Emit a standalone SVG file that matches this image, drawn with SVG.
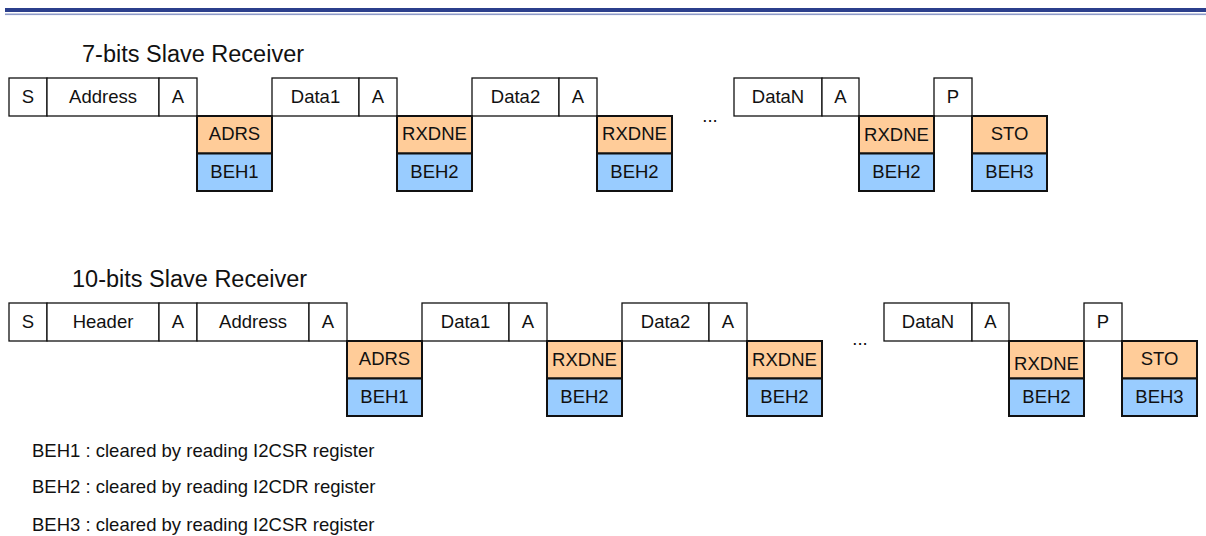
<svg xmlns="http://www.w3.org/2000/svg" width="1206" height="536" viewBox="0 0 1206 536">
<style>
text{font-family:"Liberation Sans",Arial,sans-serif;fill:#111;}
.t{font-size:18.5px;text-anchor:middle;}
.title{font-size:23.5px;}
.lg{font-size:18.5px;}
.b{fill:#fff;stroke:#111;stroke-width:1.3;}
.o{fill:#FFCC99;stroke:#111;stroke-width:2;}
.u{fill:#99CCFF;stroke:#111;stroke-width:2;}
</style>
<rect x="5" y="8" width="1201" height="4" fill="#2B3F8C"/>
<rect x="5" y="13.5" width="1201" height="1.6" fill="#8D9AC8"/>

<text class="title" x="82" y="62">7-bits Slave Receiver</text>
<g id="r7-S"><rect class="b" x="9" y="78" width="38" height="38"/><text class="t" x="28" y="103">S</text></g>
<g id="r7-Address"><rect class="b" x="47" y="78" width="112" height="38"/><text class="t" x="103" y="103">Address</text></g>
<g id="r7-A1"><rect class="b" x="159" y="78" width="38" height="38"/><text class="t" x="178" y="103">A</text></g>
<g id="r7-Data1"><rect class="b" x="272" y="78" width="87" height="38"/><text class="t" x="315.5" y="103">Data1</text></g>
<g id="r7-A2"><rect class="b" x="359" y="78" width="38" height="38"/><text class="t" x="378" y="103">A</text></g>
<g id="r7-Data2"><rect class="b" x="472" y="78" width="87" height="38"/><text class="t" x="515.5" y="103">Data2</text></g>
<g id="r7-A3"><rect class="b" x="559" y="78" width="38" height="38"/><text class="t" x="578" y="103">A</text></g>
<g id="r7-dots"><text class="t" x="710" y="122">...</text></g>
<g id="r7-DataN"><rect class="b" x="734" y="78" width="88" height="38"/><text class="t" x="778" y="103">DataN</text></g>
<g id="r7-A4"><rect class="b" x="822" y="78" width="37" height="38"/><text class="t" x="840.5" y="103">A</text></g>
<g id="r7-P"><rect class="b" x="934" y="78" width="38" height="38"/><text class="t" x="953" y="103">P</text></g>

<g id="r7-ADRS"><rect class="o" x="197" y="116" width="75" height="37.5"/><text class="t" x="234.5" y="140">ADRS</text></g>
<g id="r7-BEH1"><rect class="u" x="197" y="153.5" width="75" height="37.5"/><text class="t" x="234.5" y="177.5">BEH1</text></g>
<g id="r7-RXDNE1"><rect class="o" x="397" y="116" width="75" height="37.5"/><text class="t" x="434.5" y="140">RXDNE</text></g>
<g id="r7-BEH2a"><rect class="u" x="397" y="153.5" width="75" height="37.5"/><text class="t" x="434.5" y="177.5">BEH2</text></g>
<g id="r7-RXDNE2"><rect class="o" x="597" y="116" width="75" height="37.5"/><text class="t" x="634.5" y="140">RXDNE</text></g>
<g id="r7-BEH2b"><rect class="u" x="597" y="153.5" width="75" height="37.5"/><text class="t" x="634.5" y="177.5">BEH2</text></g>
<g id="r7-RXDNE3"><rect class="o" x="859" y="116" width="75" height="37.5"/><text class="t" x="896.5" y="141">RXDNE</text></g>
<g id="r7-BEH2c"><rect class="u" x="859" y="153.5" width="75" height="37.5"/><text class="t" x="896.5" y="177.5">BEH2</text></g>
<g id="r7-STO"><rect class="o" x="972" y="116" width="75" height="37.5"/><text class="t" x="1009.5" y="140">STO</text></g>
<g id="r7-BEH3"><rect class="u" x="972" y="153.5" width="75" height="37.5"/><text class="t" x="1009.5" y="177.5">BEH3</text></g>

<text class="title" x="72" y="287">10-bits Slave Receiver</text>
<g id="r10-S"><rect class="b" x="9" y="303" width="38" height="38"/><text class="t" x="28" y="328">S</text></g>
<g id="r10-Header"><rect class="b" x="47" y="303" width="112" height="38"/><text class="t" x="103" y="328">Header</text></g>
<g id="r10-A1"><rect class="b" x="159" y="303" width="38" height="38"/><text class="t" x="178" y="328">A</text></g>
<g id="r10-Address"><rect class="b" x="197" y="303" width="112" height="38"/><text class="t" x="253" y="328">Address</text></g>
<g id="r10-A2"><rect class="b" x="309" y="303" width="38" height="38"/><text class="t" x="328" y="328">A</text></g>
<g id="r10-Data1"><rect class="b" x="422" y="303" width="87" height="38"/><text class="t" x="465.5" y="328">Data1</text></g>
<g id="r10-A3"><rect class="b" x="509" y="303" width="38" height="38"/><text class="t" x="528" y="328">A</text></g>
<g id="r10-Data2"><rect class="b" x="622" y="303" width="87" height="38"/><text class="t" x="665.5" y="328">Data2</text></g>
<g id="r10-A4"><rect class="b" x="709" y="303" width="38" height="38"/><text class="t" x="728" y="328">A</text></g>
<g id="r10-dots"><text class="t" x="860" y="345">...</text></g>
<g id="r10-DataN"><rect class="b" x="884" y="303" width="88" height="38"/><text class="t" x="928" y="328">DataN</text></g>
<g id="r10-A5"><rect class="b" x="972" y="303" width="37" height="38"/><text class="t" x="990.5" y="328">A</text></g>
<g id="r10-P"><rect class="b" x="1084" y="303" width="38" height="38"/><text class="t" x="1103" y="328">P</text></g>

<g id="r10-ADRS"><rect class="o" x="347" y="341" width="75" height="37.5"/><text class="t" x="384.5" y="365">ADRS</text></g>
<g id="r10-BEH1"><rect class="u" x="347" y="378.5" width="75" height="37.5"/><text class="t" x="384.5" y="402.5">BEH1</text></g>
<g id="r10-RXDNE1"><rect class="o" x="547" y="341" width="75" height="37.5"/><text class="t" x="584.5" y="366">RXDNE</text></g>
<g id="r10-BEH2a"><rect class="u" x="547" y="378.5" width="75" height="37.5"/><text class="t" x="584.5" y="402.5">BEH2</text></g>
<g id="r10-RXDNE2"><rect class="o" x="747" y="341" width="75" height="37.5"/><text class="t" x="784.5" y="366">RXDNE</text></g>
<g id="r10-BEH2b"><rect class="u" x="747" y="378.5" width="75" height="37.5"/><text class="t" x="784.5" y="402.5">BEH2</text></g>
<g id="r10-RXDNE3"><rect class="o" x="1009" y="341" width="75" height="37.5"/><text class="t" x="1046.5" y="370">RXDNE</text></g>
<g id="r10-BEH2c"><rect class="u" x="1009" y="378.5" width="75" height="37.5"/><text class="t" x="1046.5" y="402.5">BEH2</text></g>
<g id="r10-STO"><rect class="o" x="1122" y="341" width="75" height="37.5"/><text class="t" x="1159.5" y="365">STO</text></g>
<g id="r10-BEH3"><rect class="u" x="1122" y="378.5" width="75" height="37.5"/><text class="t" x="1159.5" y="402.5">BEH3</text></g>

<g id="legend">
<text class="lg" x="32" y="457">BEH1 : cleared by reading I2CSR register</text>
<text class="lg" x="32" y="493">BEH2 : cleared by reading I2CDR register</text>
<text class="lg" x="32" y="530.5">BEH3 : cleared by reading I2CSR register</text>
</g>
</svg>
